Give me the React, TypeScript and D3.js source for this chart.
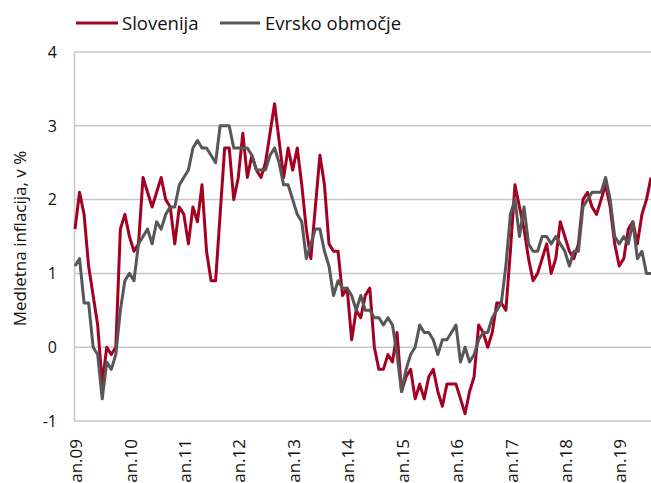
import React from 'react';
import * as d3 from 'd3';

// Monthly data, Jan 2009 – Aug 2019 (annual inflation, %)
const slovenia: number[] = [
  // 2009
  1.6, 2.1, 1.8, 1.1, 0.7, 0.3, -0.5, 0.0, -0.1, 0.0, 1.6, 1.8,
  // 2010
  1.5, 1.3, 1.4, 2.3, 2.1, 1.9, 2.1, 2.3, 2.0, 1.9, 1.4, 1.9,
  // 2011
  1.8, 1.4, 1.9, 1.7, 2.2, 1.3, 0.9, 0.9, 1.8, 2.7, 2.7, 2.0,
  // 2012
  2.3, 2.9, 2.3, 2.6, 2.4, 2.3, 2.5, 2.9, 3.3, 2.8, 2.3, 2.7,
  // 2013
  2.4, 2.7, 2.2, 1.6, 1.2, 1.9, 2.6, 2.2, 1.4, 1.3, 1.3, 0.7,
  // 2014
  0.8, 0.1, 0.5, 0.4, 0.7, 0.8, 0.0, -0.3, -0.3, -0.1, -0.2, 0.2,
  // 2015
  -0.6, -0.4, -0.3, -0.7, -0.5, -0.7, -0.4, -0.3, -0.6, -0.8, -0.5, -0.5,
  // 2016
  -0.5, -0.7, -0.9, -0.6, -0.4, 0.3, 0.2, 0.0, 0.2, 0.6, 0.6, 0.5,
  // 2017
  1.3, 2.2, 1.9, 1.6, 1.2, 0.9, 1.0, 1.2, 1.4, 1.0, 1.2, 1.7,
  // 2018
  1.5, 1.3, 1.2, 1.4, 2.0, 2.1, 1.9, 1.8, 2.0, 2.2, 1.9, 1.4,
  // 2019
  1.1, 1.2, 1.6, 1.7, 1.4, 1.8, 2.0, 2.3,
];

const euroArea: number[] = [
  // 2009
  1.1, 1.2, 0.6, 0.6, 0.0, -0.1, -0.7, -0.2, -0.3, -0.1, 0.5, 0.9,
  // 2010
  1.0, 0.9, 1.4, 1.5, 1.6, 1.4, 1.7, 1.6, 1.8, 1.9, 1.9, 2.2,
  // 2011
  2.3, 2.4, 2.7, 2.8, 2.7, 2.7, 2.6, 2.5, 3.0, 3.0, 3.0, 2.7,
  // 2012
  2.7, 2.7, 2.7, 2.6, 2.4, 2.4, 2.4, 2.6, 2.7, 2.5, 2.2, 2.2,
  // 2013
  2.0, 1.8, 1.7, 1.2, 1.4, 1.6, 1.6, 1.3, 1.1, 0.7, 0.9, 0.8,
  // 2014
  0.8, 0.7, 0.5, 0.7, 0.5, 0.5, 0.4, 0.4, 0.3, 0.4, 0.3, -0.1,
  // 2015
  -0.6, -0.3, -0.1, 0.0, 0.3, 0.2, 0.2, 0.1, -0.1, 0.1, 0.1, 0.2,
  // 2016
  0.3, -0.2, 0.0, -0.2, -0.1, 0.1, 0.2, 0.2, 0.4, 0.5, 0.6, 1.1,
  // 2017
  1.8, 2.0, 1.5, 1.9, 1.4, 1.3, 1.3, 1.5, 1.5, 1.4, 1.5, 1.4,
  // 2018
  1.3, 1.1, 1.3, 1.3, 1.9, 2.0, 2.1, 2.1, 2.1, 2.3, 2.0, 1.5,
  // 2019
  1.4, 1.5, 1.4, 1.7, 1.2, 1.3, 1.0, 1.0,
];

const xLabels: string[] = [
  'jan.09', 'jan.10', 'jan.11', 'jan.12', 'jan.13', 'jan.14',
  'jan.15', 'jan.16', 'jan.17', 'jan.18', 'jan.19',
];
const yTicks: number[] = [-1, 0, 1, 2, 3, 4];
const seriesNames: string[] = ['Slovenija', 'Evrsko območje'];
const yTitle = 'Medletna inflacija, v %';

const RED = '#A50021';
const GRAY = '#575757';
const GRID = '#c8c8c8';
const FONT = "'Open Sans', 'Noto Sans', sans-serif";

export default function App() {
  const W = 651;
  const H = 483;
  const left = 75;
  const right = 651;
  const top = 52;
  const bottom = 421;

  const x = d3.scaleLinear().domain([0, slovenia.length - 1]).range([left, right]);
  const y = d3.scaleLinear().domain([-1, 4]).range([bottom, top]);

  const line = d3
    .line<number>()
    .x((_, i) => x(i))
    .y((d) => y(d));

  return (
    <svg
      width={W}
      height={H}
      style={{ position: 'absolute', left: 0, top: 0, display: 'block', background: '#fff' }}
      fontFamily={FONT}
    >
      {/* gridlines */}
      {yTicks.map((t) => (
        <line
          key={'g' + t}
          x1={left - 1}
          x2={W}
          y1={y(t)}
          y2={y(t)}
          stroke={GRID}
          strokeWidth={1.5}
        />
      ))}
      {/* left axis */}
      <line x1={left - 0.5} x2={left - 0.5} y1={y(4)} y2={y(-1)} stroke={GRID} strokeWidth={1.5} />

      {/* y tick labels */}
      {yTicks.map((t) => (
        <text
          key={'yt' + t}
          x={57}
          y={y(t)}
          dy="0.36em"
          textAnchor="end"
          fontSize={16}
          fill="#111"
        >
          {t}
        </text>
      ))}

      {/* y title */}
      <text
        transform={`translate(20, ${(y(4) + y(-1)) / 2 + 2}) rotate(-90)`}
        textAnchor="middle"
        dy="0.36em"
        fontSize={17}
        fill="#111"
      >
        {yTitle}
      </text>

      {/* x labels */}
      {xLabels.map((lab, k) => (
        <text
          key={lab}
          transform={`translate(${x(k * 12) + 1}, 439) rotate(-90)`}
          textAnchor="end"
          dy="0.36em"
          fontSize={17}
          fill="#111"
        >
          {lab}
        </text>
      ))}

      {/* series */}
      <path d={line(slovenia) || ''} fill="none" stroke={RED} strokeWidth={3} strokeLinejoin="round" />
      <path d={line(euroArea) || ''} fill="none" stroke={GRAY} strokeWidth={3} strokeLinejoin="round" />

      {/* legend */}
      <line x1={76} x2={118} y1={23} y2={23} stroke={RED} strokeWidth={3} />
      <text x={122} y={23} dy="0.36em" fontSize={18.5} fill="#111">
        {seriesNames[0]}
      </text>
      <line x1={220} x2={260} y1={23} y2={23} stroke={GRAY} strokeWidth={3} />
      <text x={265} y={23} dy="0.36em" fontSize={18.5} fill="#111">
        {seriesNames[1]}
      </text>
    </svg>
  );
}
